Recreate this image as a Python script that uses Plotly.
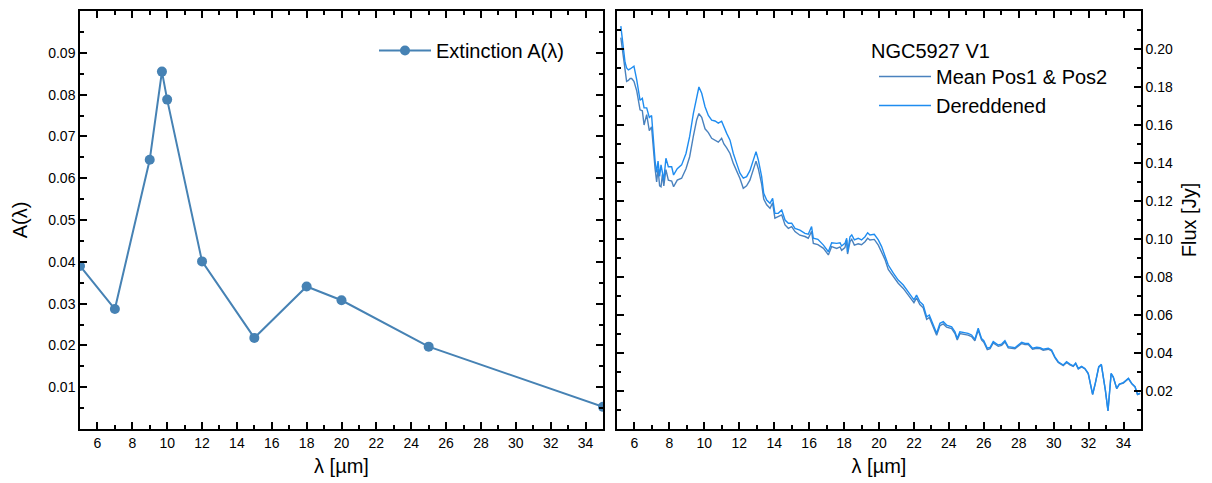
import plotly.graph_objects as go

# Extinction curve A(lambda)
ext_wl = [5, 7, 9, 9.7, 10, 12, 15, 18, 20, 25, 35]
ext_a = [0.0390, 0.0287, 0.0644, 0.0855, 0.0788, 0.0401, 0.0218, 0.0341, 0.0308, 0.0197, 0.0053]

# Spectrum of NGC5927 V1: wavelength [um], mean of Pos1/Pos2 and dereddened flux [Jy]
spec_wl = [5.22, 5.36, 5.46, 5.55, 5.65, 5.75, 5.84, 5.97, 6.13, 6.32, 6.45, 6.55, 6.7, 6.85, 6.98,
           7.08, 7.18, 7.27, 7.35, 7.44, 7.52, 7.60, 7.68, 7.80, 7.94, 8.13, 8.24, 8.45, 8.7, 8.95,
           9.16, 9.37, 9.56, 9.69, 9.85, 10.04, 10.23, 10.42, 10.61, 10.8, 10.99, 11.12, 11.28, 11.47,
           11.66, 11.85, 12.04, 12.23, 12.42, 12.61, 12.8, 12.96, 13.09, 13.28, 13.4, 13.57, 13.76,
           13.91, 14.04, 14.23, 14.43, 14.62, 14.81, 15.0, 15.19, 15.47, 15.76, 15.95, 16.14, 16.24,
           16.5, 16.82, 17.1, 17.29, 17.58, 17.77, 17.86, 18.05, 18.15, 18.2, 18.34, 18.44, 18.59,
           18.81, 19.0, 19.2, 19.35, 19.48, 19.73, 19.96, 20.15, 20.34, 20.53, 20.82, 21.1, 21.39,
           21.68, 21.87, 22.0, 22.15, 22.34, 22.53, 22.73, 22.88, 23.07, 23.3, 23.49, 23.68, 23.87,
           24.16, 24.35, 24.48, 24.63, 24.92, 25.1, 25.3, 25.49, 25.68, 25.87, 26.0, 26.2, 26.36,
           26.54, 26.83, 27.02, 27.21, 27.4, 27.6, 27.78, 27.97, 28.17, 28.36, 28.55, 28.79, 29.03,
           29.22, 29.4, 29.69, 29.88, 30.07, 30.26, 30.55, 30.74, 30.93, 31.12, 31.26, 31.41, 31.6,
           31.79, 31.98, 32.12, 32.23, 32.38, 32.58, 32.73, 32.82, 32.96, 33.11, 33.29, 33.41, 33.61,
           33.76, 33.99, 34.28, 34.47, 34.66, 34.8, 34.95]

flux_mean = [0.206, 0.195, 0.188, 0.183, 0.1835, 0.1845, 0.1845, 0.183, 0.178, 0.168, 0.1675, 0.160,
             0.1655, 0.157, 0.159, 0.146, 0.137, 0.130, 0.137, 0.128, 0.1275, 0.134, 0.128, 0.1365,
             0.131, 0.1305, 0.1275, 0.131, 0.132, 0.137, 0.1433, 0.154, 0.1626, 0.166, 0.164, 0.158,
             0.156, 0.153, 0.152, 0.151, 0.153, 0.150, 0.148, 0.145, 0.1398, 0.136, 0.1318, 0.1267,
             0.128, 0.131, 0.137, 0.141, 0.137, 0.129, 0.121, 0.118, 0.1162, 0.119, 0.111, 0.1118,
             0.1127, 0.1074, 0.1056, 0.1065, 0.1039, 0.102, 0.1013, 0.1004, 0.104, 0.0977, 0.097,
             0.0951, 0.0916, 0.096, 0.095, 0.0958, 0.094, 0.0955, 0.0995, 0.0921, 0.0986, 0.0998,
             0.0968, 0.0975, 0.097, 0.0986, 0.1004, 0.0995, 0.0998, 0.0968, 0.0933, 0.0893, 0.084,
             0.080, 0.0767, 0.074, 0.0705, 0.068, 0.0665, 0.069, 0.0655, 0.0638, 0.0577, 0.0587,
             0.0544, 0.0493, 0.0544, 0.0553, 0.0536, 0.0528, 0.0502, 0.0468, 0.0502, 0.0498, 0.0494,
             0.0486, 0.0464, 0.0521, 0.0469, 0.0457, 0.0418, 0.0423, 0.0453, 0.0435, 0.044, 0.0458,
             0.0427, 0.0425, 0.0422, 0.0436, 0.045, 0.0444, 0.0444, 0.042, 0.0425, 0.0423, 0.0415,
             0.042, 0.0411, 0.0376, 0.035, 0.0333, 0.035, 0.0338, 0.0329, 0.0344, 0.0316, 0.0327,
             0.0316, 0.029, 0.0238, 0.0181, 0.0238, 0.0325, 0.0337, 0.029, 0.0203, 0.0095, 0.029,
             0.0273, 0.0212, 0.0235, 0.0242, 0.0265, 0.0238, 0.0221, 0.0181, 0.0186]

flux_dered = [0.212, 0.1995, 0.193, 0.190, 0.189, 0.1895, 0.190, 0.191, 0.1837, 0.173, 0.174, 0.169,
              0.169, 0.164, 0.165, 0.150, 0.141, 0.135, 0.141, 0.133, 0.139, 0.135, 0.131, 0.1425,
              0.138, 0.138, 0.1337, 0.137, 0.139, 0.145, 0.154, 0.166, 0.175, 0.180, 0.1767, 0.1696,
              0.165, 0.1626, 0.1621, 0.161, 0.162, 0.159, 0.1556, 0.152, 0.145, 0.1398, 0.1346, 0.132,
              0.1328, 0.136, 0.1416, 0.146, 0.1416, 0.133, 0.124, 0.1205, 0.1188, 0.1214, 0.1135,
              0.1135, 0.1153, 0.110, 0.1083, 0.1083, 0.1056, 0.1047, 0.103, 0.1025, 0.1065, 0.1004,
              0.0998, 0.0968, 0.0933, 0.098, 0.0977, 0.098, 0.0963, 0.0977, 0.1004, 0.093, 0.1012,
              0.1021, 0.0995, 0.1004, 0.0995, 0.1012, 0.1033, 0.1021, 0.1025, 0.0995, 0.096, 0.0916,
              0.0863, 0.082, 0.0784, 0.0758, 0.0723, 0.0696, 0.068, 0.0705, 0.067, 0.0653, 0.059,
              0.060, 0.0556, 0.0504, 0.0556, 0.0565, 0.0547, 0.0538, 0.0512, 0.0477, 0.0512, 0.0507,
              0.0503, 0.0495, 0.0472, 0.053, 0.0477, 0.0465, 0.0425, 0.043, 0.046, 0.0442, 0.0447,
              0.0465, 0.0433, 0.0431, 0.0428, 0.0442, 0.0456, 0.045, 0.045, 0.0425, 0.043, 0.0428,
              0.042, 0.0425, 0.0416, 0.038, 0.0354, 0.0337, 0.0354, 0.0342, 0.0332, 0.0347, 0.0319,
              0.033, 0.0319, 0.0293, 0.024, 0.0183, 0.024, 0.0328, 0.034, 0.0293, 0.0205, 0.0096,
              0.0293, 0.0275, 0.0214, 0.0237, 0.0244, 0.0267, 0.024, 0.0223, 0.0183, 0.0188]

left_ticks = [0.01, 0.02, 0.03, 0.04, 0.05, 0.06, 0.07, 0.08, 0.09]
left_ticklabels = ["0.01", "0.02", "0.03", "0.04", "0.05", "0.06", "0.07", "0.08", "0.09"]
right_ticks = [0.02, 0.04, 0.06, 0.08, 0.10, 0.12, 0.14, 0.16, 0.18, 0.20]
right_ticklabels = ["0.02", "0.04", "0.06", "0.08", "0.10", "0.12", "0.14", "0.16", "0.18", "0.20"]
x_ticks = list(range(6, 35, 2))

FONT = "Liberation Sans, Arial, sans-serif"
W, H = 1212, 483

fig = go.Figure()

fig.add_trace(go.Scatter(
    x=ext_wl, y=ext_a, mode="lines+markers", name="Extinction A(\u03bb)",
    line=dict(color="#4682B4", width=2),
    marker=dict(color="#4682B4", size=10),
    xaxis="x", yaxis="y", legend="legend",
))
fig.add_trace(go.Scatter(
    x=spec_wl, y=flux_mean, mode="lines", name="Mean Pos1 & Pos2",
    line=dict(color="#4A82BE", width=1.4),
    xaxis="x2", yaxis="y2", legend="legend2",
))
fig.add_trace(go.Scatter(
    x=spec_wl, y=flux_dered, mode="lines", name="Dereddened",
    line=dict(color="#1E8CF0", width=1.4),
    xaxis="x2", yaxis="y2", legend="legend2",
))

x0a, x1a = 80 / W, 603 / W
x0b, x1b = 617 / W, 1141 / W
y0, y1 = 1 - 429 / H, 1 - 11 / H

frame = dict(showline=True, linecolor="black", linewidth=1.5, mirror="ticks",
             ticks="inside", ticklen=7, tickwidth=1.5, tickcolor="black",
             showgrid=False, zeroline=False,
             tickfont=dict(family=FONT, size=14, color="black"))
minor_x = dict(ticks="inside", ticklen=4, tickwidth=1.5, tickcolor="black", dtick=1, showgrid=False)

fig.update_layout(
    width=W, height=H,
    margin=dict(l=0, r=0, t=0, b=0),
    paper_bgcolor="white", plot_bgcolor="white",
    font=dict(family=FONT, color="black"),
    xaxis=dict(domain=[x0a, x1a], range=[5, 35], tickvals=x_ticks, anchor="y",
               minor=minor_x,
               title=dict(text="\u03bb [\u00b5m]", font=dict(size=20), standoff=9), **frame),
    yaxis=dict(domain=[y0, y1], range=[0, 0.1], tickvals=left_ticks, ticktext=left_ticklabels,
               anchor="x",
               minor=dict(ticks="inside", ticklen=4, tickwidth=1.5, tickcolor="black",
                          tickvals=[0.005 + 0.01 * i for i in range(10)], showgrid=False),
               title=dict(text="A(\u03bb)", font=dict(size=20), standoff=15), **frame),
    xaxis2=dict(domain=[x0b, x1b], range=[5, 35], tickvals=x_ticks, anchor="y2",
                minor=minor_x,
                title=dict(text="\u03bb [\u00b5m]", font=dict(size=20), standoff=9), **frame),
    yaxis2=dict(domain=[y0, y1], range=[0, 0.22], tickvals=right_ticks, ticktext=right_ticklabels,
                anchor="x2", side="right",
                minor=dict(ticks="inside", ticklen=4, tickwidth=1.5, tickcolor="black",
                           tickvals=[0.01 + 0.02 * i for i in range(11)], showgrid=False),
                title=dict(text="Flux [Jy]", font=dict(size=20), standoff=10), **frame),
    legend=dict(x=374 / W, y=1 - 31 / H, xanchor="left", yanchor="top",
                bgcolor="rgba(0,0,0,0)", font=dict(family=FONT, size=20, color="black"),
                itemwidth=52),
    legend2=dict(x=874 / W, y=1 - 57 / H, xanchor="left", yanchor="top",
                 bgcolor="rgba(0,0,0,0)", font=dict(family=FONT, size=20, color="black"),
                 tracegroupgap=0, itemwidth=52),
    annotations=[dict(text="NGC5927 V1", x=869 / W, y=1 - 51 / H, xref="paper", yref="paper",
                      xanchor="left", yanchor="middle", showarrow=False,
                      font=dict(family=FONT, size=20, color="black"))],
    showlegend=True,
)

fig.write_html("out.html")
